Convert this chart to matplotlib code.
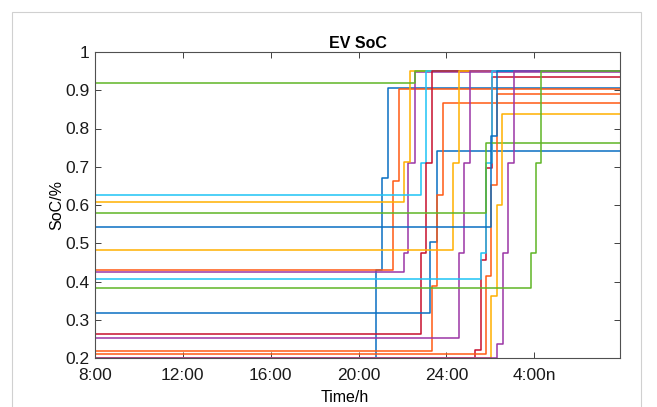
import matplotlib
matplotlib.use('Agg')
import matplotlib.pyplot as plt
from matplotlib.patches import Rectangle

# colours of each EV curve
ev_colors = ['#0a6fc2', '#ff5a14', '#9b35a5', '#ffb000', '#5fb526', '#1ec3f5',
             '#c8102e', '#0a6fc2', '#ff5a14', '#ffb000', '#9b35a5', '#c8102e',
             '#1ec3f5', '#5fb526', '#ff5a14', '#0a6fc2', '#ffb000', '#9b35a5',
             '#5fb526']

# SoC at 8:00
soc_start = [0.20, 0.43, 0.425, 0.607, 0.92, 0.625,
             0.263, 0.317, 0.218, 0.483, 0.252, 0.20,
             0.406, 0.58, 0.21, 0.543, 0.20, 0.20,
             0.383]

# times (h) at which the SoC changes, and the new SoC after each change
step_times = [
    [20.77, 21.05, 21.32],
    [21.55, 21.82],
    [22.05, 22.27, 22.55],
    [22.05, 22.32],
    [22.55],
    [22.82, 23.09],
    [22.82, 23.09, 23.32],
    [23.27, 23.55],
    [23.32, 23.55, 23.82],
    [24.32, 24.59],
    [24.55, 24.82, 25.09],
    [25.32, 25.59, 25.82, 26.09],
    [25.59, 25.82, 26.09],
    [25.82],
    [25.82, 26.05, 26.32],
    [26.05, 26.32],
    [26.05, 26.32, 26.55],
    [26.32, 26.59, 26.82, 27.09],
    [27.86, 28.09, 28.32],
]
step_socs = [
    [0.43, 0.67, 0.906],
    [0.663, 0.903],
    [0.474, 0.71, 0.948],
    [0.712, 0.95],
    [0.95],
    [0.71, 0.95],
    [0.474, 0.71, 0.95],
    [0.503, 0.742],
    [0.388, 0.627, 0.866],
    [0.71, 0.95],
    [0.474, 0.71, 0.95],
    [0.22, 0.456, 0.697, 0.935],
    [0.474, 0.71, 0.95],
    [0.762],
    [0.414, 0.652, 0.89],
    [0.78, 0.95],
    [0.362, 0.6, 0.838],
    [0.237, 0.474, 0.71, 0.95],
    [0.474, 0.71, 0.95],
]

t_start = 8
t_end = 31.9

x_ticks = [8, 12, 16, 20, 24, 28]
x_tick_labels = ['8:00', '12:00', '16:00', '20:00', '24:00', '4:00n']
y_ticks = [0.2, 0.3, 0.4, 0.5, 0.6, 0.7, 0.8, 0.9, 1.0]
y_tick_labels = ['0.2', '0.3', '0.4', '0.5', '0.6', '0.7', '0.8', '0.9', '1']

plt.rcParams['font.family'] = ['Liberation Sans', 'DejaVu Sans']

W, H = 657, 407
fig = plt.figure(figsize=(W / 100, H / 100), dpi=100)
ax = fig.add_axes([95 / W, (H - 358) / H, 525 / W, 306 / H])

for color, s0, times, socs in zip(ev_colors, soc_start, step_times, step_socs):
    xs = [t_start] + times + [t_end]
    ys = [s0] + socs + [socs[-1]]
    ax.plot(xs, ys, drawstyle='steps-post', color=color, linewidth=1.1)

ax.set_xlim(t_start, t_end)
ax.set_ylim(0.2, 1.0)
ax.set_xticks(x_ticks)
ax.set_xticklabels(x_tick_labels)
ax.set_yticks(y_ticks)
ax.set_yticklabels(y_tick_labels)
ax.tick_params(direction='in', length=4, width=0.7, colors='#404040',
               labelcolor='#1a1a1a', labelsize=12.5, top=True, right=True)
ax.tick_params(axis='x', pad=7)
ax.tick_params(axis='y', pad=4)
for sp in ax.spines.values():
    sp.set_color('#505050')
    sp.set_linewidth(0.8)

ax.set_title('EV SoC', fontsize=11.5, fontweight='bold', pad=3)
ax.set_xlabel('Time/h', fontsize=11.5)
ax.xaxis.set_label_coords(0.476, -0.105)
ax.set_ylabel('SoC/%', fontsize=11.5, labelpad=1)

# light frame of the figure window
fig.add_artist(Rectangle((12 / W, -0.01), (641 - 12) / W, (H - 12) / H + 0.01,
                         transform=fig.transFigure, fill=False,
                         edgecolor='#d0d0d0', linewidth=0.8))

fig.savefig('out.png', dpi=100)
